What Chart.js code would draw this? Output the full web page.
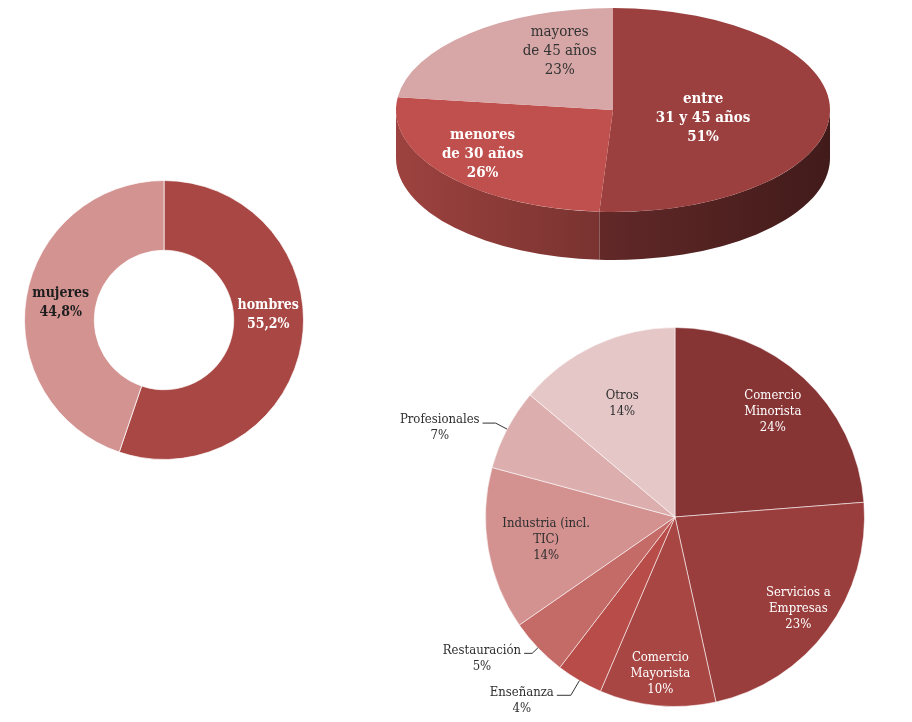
<!DOCTYPE html>
<html lang="es">
<head>
<meta charset="utf-8">
<title>Perfil de las empresas</title>
<script src="https://cdn.jsdelivr.net/npm/chart.js@4.4.1/dist/chart.umd.min.js"></script>
<style>
  html, body { margin: 0; background: #fff; }
  #wrap { position: relative; width: 912px; height: 722px; }
  #wrap canvas { position: absolute; left: 0; top: 0; }
</style>
</head>
<body>
<div id="wrap">
  <canvas id="sexo" width="912" height="722"></canvas>
  <canvas id="edad" width="912" height="722"></canvas>
  <canvas id="sector" width="912" height="722"></canvas>
</div>
<script>
// Sexo (donut)
const sexoLabels = [["hombres"], ["mujeres"]];
const sexoValues = [55.2, 44.8];

// Edad (pie 3D)
const edadLabels = [["entre", "31 y 45 años"], ["menores", "de 30 años"], ["mayores", "de 45 años"]];
const edadValues = [51, 26, 23];

// Sector (pie)
const sectorLabels = [
  ["Comercio", "Minorista"],
  ["Servicios a", "Empresas"],
  ["Comercio", "Mayorista"],
  ["Enseñanza"],
  ["Restauración"],
  ["Industria (incl.", "TIC)"],
  ["Profesionales"],
  ["Otros"],
];
const sectorValues = [24, 23, 10, 4, 5, 14, 7, 14];

// styles
const FONT = '"DejaVu Serif Condensed", "DejaVu Serif", serif';
const sexoColors = ["#a84744", "#d39391"];
const sexoText = ["#ffffff", "#1e1e1e"];
const sexoLabelShift = [[1, -22], [0, 0]];

const edadColors = ["#9b403f", "#c0504d", "#d7a6a6"];
const edadText = ["#ffffff", "#ffffff", "#333333"];
const edadBold = [true, true, false];
const edadLabelRadius = [0.42, 0.78, 0.65];
const edadLabelShift = [[-1, 7], [0, -7], [40, -9]];

const sectorColors = ["#873435", "#9a3e3d", "#a84644", "#b84c48", "#c46a67", "#d39190", "#dcaeae", "#e6c7c7"];
const sectorText = ["#ffffff", "#ffffff", "#ffffff", "#2e2e2e", "#2e2e2e", "#2e2e2e", "#2e2e2e", "#2e2e2e"];
const sectorOutside = [false, false, false, true, true, false, true, false];
const sectorLabelRadius = [0.76, 0.81, 0.83, 0, 0, 0.69, 0, 0.66];
const sectorLeader = [0, 0, 0, 17, 8, 0, 13, 0];
const sectorTail = [0, 0, 0, 14, 8, 0, 13, 0];

function shade(hex, k) {
  const n = parseInt(hex.slice(1), 16);
  const r = Math.round(((n >> 16) & 255) * k);
  const g = Math.round(((n >> 8) & 255) * k);
  const b = Math.round((n & 255) * k);
  return `rgb(${r},${g},${b})`;
}

function pct(v, decimals) {
  return v.toFixed(decimals).replace(".", ",") + "%";
}

function pick(v, i) {
  return Array.isArray(v) ? v[i] : v;
}

// flattens the pie and draws the side band under it
const pie3d = {
  id: "pie3d",
  beforeDatasetsDraw(chart, args, opts) {
    const ctx = chart.ctx;
    const meta = chart.getDatasetMeta(0);
    const first = meta.data[0];
    const cx = first.x, cy = first.y, r = first.outerRadius;
    const ry = r * opts.tilt;
    const cyF = chart.chartArea.top + ry;
    const colors = chart.data.datasets[0].backgroundColor;

    meta.data.forEach((arc, i) => {
      const a0 = Math.max(arc.startAngle, 0);
      const a1 = Math.min(arc.endAngle, Math.PI);
      if (a1 <= a0) return;
      const grad = ctx.createLinearGradient(cx - r, 0, cx + r, 0);
      grad.addColorStop(0, shade(colors[i], 0.82));
      grad.addColorStop(1, shade(colors[i], 0.42));
      ctx.beginPath();
      ctx.ellipse(cx, cyF, r, ry, 0, a0, a1);
      ctx.ellipse(cx, cyF + opts.depth, r, ry, 0, a1, a0, true);
      ctx.closePath();
      ctx.fillStyle = grad;
      ctx.fill();
    });

    ctx.save();
    ctx.translate(0, cyF);
    ctx.scale(1, opts.tilt);
    ctx.translate(0, -cy);
  },
  afterDatasetsDraw(chart) {
    chart.ctx.restore();
  },
};

// text on the slices (and outside with a leader line)
const sliceLabels = {
  id: "sliceLabels",
  afterDraw(chart, args, opts) {
    const ctx = chart.ctx;
    const meta = chart.getDatasetMeta(0);
    const values = chart.data.datasets[0].data;
    const total = values.reduce((a, b) => a + b, 0);
    const tilt = opts.tilt || 1;

    meta.data.forEach((arc, i) => {
      const cx = arc.x, cy = arc.y, r = arc.outerRadius;
      const cyF = tilt === 1 ? cy : chart.chartArea.top + r * tilt;
      const mid = (arc.startAngle + arc.endAngle) / 2;
      const lines = chart.data.labels[i].concat(pct(values[i] / total * 100, opts.decimals));
      const shift = pick(opts.shift, i) || [0, 0];
      ctx.save();
      ctx.font = `${pick(opts.bold, i) ? "bold " : ""}${opts.size}px ${FONT}`;
      ctx.fillStyle = opts.colors[i];
      ctx.textAlign = "center";
      ctx.textBaseline = "middle";

      if (opts.outside && opts.outside[i]) {
        const lead = pick(opts.leader, i);
        const p0x = cx + r * Math.cos(mid), p0y = cy + r * Math.sin(mid);
        const p1x = cx + (r + lead) * Math.cos(mid), p1y = cy + (r + lead) * Math.sin(mid);
        const p2x = p1x - pick(opts.tail, i);
        ctx.strokeStyle = "#333";
        ctx.lineWidth = 1;
        ctx.beginPath();
        ctx.moveTo(p0x, p0y);
        ctx.lineTo(p1x, p1y);
        ctx.lineTo(p2x, p1y);
        ctx.stroke();
        const w = Math.max(...lines.map((t) => ctx.measureText(t).width));
        const tx = p2x - 3 - w / 2;
        lines.forEach((t, k) => ctx.fillText(t, tx, p1y - 3 + k * opts.lineHeight));
      } else {
        const f = pick(opts.radius, i);
        const rr = arc.innerRadius + (r - arc.innerRadius) * f;
        const ax = cx + rr * Math.cos(mid) + shift[0];
        const ay = cyF + rr * Math.sin(mid) * tilt + shift[1];
        const y0 = ay - (lines.length - 1) * opts.lineHeight / 2;
        lines.forEach((t, k) => ctx.fillText(t, ax, y0 + k * opts.lineHeight));
      }
      ctx.restore();
    });
  },
};

function pieChart(id, type, labels, values, colors, padding, extra, plugins) {
  return new Chart(document.getElementById(id), {
    type,
    data: {
      labels,
      datasets: [{
        data: values,
        backgroundColor: colors,
        borderColor: extra.borderColor || "#fff",
        borderWidth: extra.borderWidth ?? 0,
      }],
    },
    options: {
      responsive: false,
      animation: false,
      events: [],
      cutout: extra.cutout || 0,
      layout: { padding },
      plugins: Object.assign({
        legend: { display: false },
        tooltip: { enabled: false },
      }, extra.plugins),
    },
    plugins,
  });
}

// left: hombres / mujeres
pieChart("sexo", "doughnut", sexoLabels, sexoValues, sexoColors,
  { left: 24, right: 608, top: 180, bottom: 262 },
  {
    cutout: "50%",
    borderWidth: 1,
    borderColor: "rgba(255,255,255,0.7)",
    plugins: {
      sliceLabels: { size: 14, bold: true, lineHeight: 19, radius: 0.5, colors: sexoText, shift: sexoLabelShift, decimals: 1 },
    },
  },
  [sliceLabels]);

// top right: edad, 3D
pieChart("edad", "pie", edadLabels, edadValues, edadColors,
  { left: 396, right: 82, top: 8, bottom: 280 },
  {
    borderWidth: 0,
    plugins: {
      pie3d: { tilt: 0.47, depth: 48 },
      sliceLabels: {
        size: 15, bold: edadBold, lineHeight: 19, radius: edadLabelRadius, colors: edadText,
        shift: edadLabelShift, tilt: 0.47, decimals: 0,
      },
    },
  },
  [pie3d, sliceLabels]);

// bottom right: sector
pieChart("sector", "pie", sectorLabels, sectorValues, sectorColors,
  { left: 485, right: 47, top: 327, bottom: 15 },
  {
    borderWidth: 1,
    borderColor: "rgba(255,255,255,0.55)",
    plugins: {
      sliceLabels: {
        size: 13, bold: false, lineHeight: 16, radius: sectorLabelRadius, colors: sectorText,
        outside: sectorOutside, leader: sectorLeader, tail: sectorTail, decimals: 0,
      },
    },
  },
  [sliceLabels]);
</script>
</body>
</html>
